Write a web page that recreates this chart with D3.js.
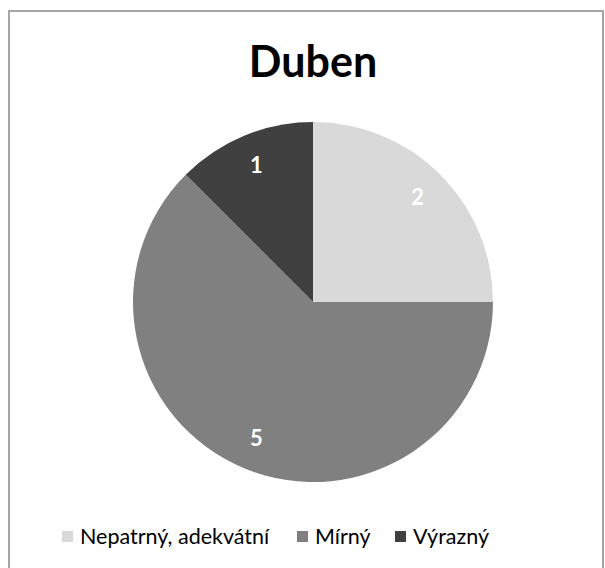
<!DOCTYPE html>
<html>
<head>
<meta charset="utf-8">
<script src="https://cdn.jsdelivr.net/npm/d3@7"></script>
<style>
  html, body { margin: 0; padding: 0; background: #fff; }
  svg { display: block; }
</style>
</head>
<body>
<script>
const title = "Duben";
const categories = ["Nepatrný, adekvátní", "Mírný", "Výrazný"];
const values = [2, 5, 1];
const colors = ["#d9d9d9", "#808080", "#404040"];

const W = 605, H = 568;
const svg = d3.select("body").append("svg").attr("width", W).attr("height", H);

svg.append("rect")
  .attr("x", 9).attr("y", 11).attr("width", 594).attr("height", 570)
  .attr("fill", "#fff").attr("stroke", "#a6a6a6").attr("stroke-width", 2);

svg.append("text")
  .attr("x", 313).attr("y", 77)
  .attr("text-anchor", "middle")
  .attr("font-family", "Lato, 'Open Sans', sans-serif")
  .attr("font-weight", "bold")
  .attr("font-size", 43)
  .attr("fill", "#000")
  .text(title);

const cx = 313, cy = 302, r = 180;
const data = categories.map((c, i) => ({ cat: c, value: values[i], color: colors[i] }));
const pie = d3.pie().value(d => d.value).sort(null);
const arc = d3.arc().innerRadius(0).outerRadius(r);
const labelArc = d3.arc().innerRadius(148).outerRadius(148);

const g = svg.append("g").attr("transform", `translate(${cx},${cy})`);
const arcs = pie(data);
g.selectAll("path").data(arcs).join("path")
  .attr("d", arc)
  .attr("fill", d => d.data.color);

g.selectAll("text").data(arcs).join("text")
  .attr("transform", d => `translate(${labelArc.centroid(d)})`)
  .attr("text-anchor", "middle")
  .attr("dy", "0.35em")
  .attr("font-family", "Lato, 'Open Sans', sans-serif")
  .attr("font-weight", "bold")
  .attr("font-size", 22)
  .attr("fill", "#fff")
  .text(d => d.data.value);

// legend
const legendX = [62, 297, 395];
const lg = svg.append("g");
categories.forEach((c, i) => {
  lg.append("rect")
    .attr("x", legendX[i]).attr("y", 531).attr("width", 11).attr("height", 11)
    .attr("fill", colors[i]);
  lg.append("text")
    .attr("x", legendX[i] + 18).attr("y", 544)
    .attr("font-family", "Lato, 'Open Sans', sans-serif")
    .attr("font-size", 21.5)
    .attr("fill", "#000")
    .text(c);
});
</script>
</body>
</html>
